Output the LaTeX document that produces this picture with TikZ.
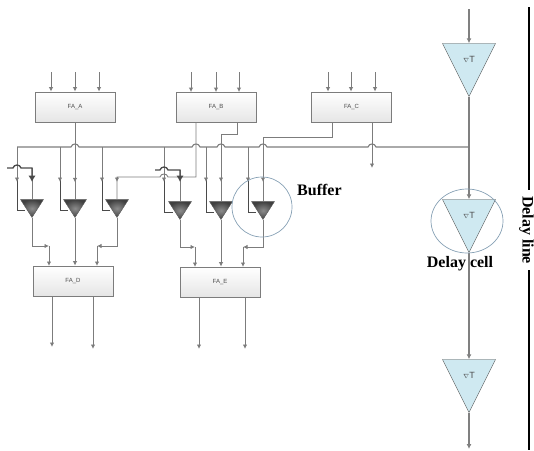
\documentclass[tikz,border=0pt]{standalone}
\usepackage{fontspec}
\setmainfont{Liberation Serif}
\setsansfont{Liberation Sans}
\usepackage{tikz}
\usetikzlibrary{arrows.meta,shapes.geometric}

\definecolor{wireGray}{HTML}{7C7C7C}
\definecolor{wireDark}{HTML}{4A4A4A}
\definecolor{ringBlue}{HTML}{86A0B4}
\definecolor{cellBlue}{HTML}{CFE9F1}

% bus jumps over a crossing wire at (x,y)
\newcommand{\hopx}[2]{-- (#1-4,#2) .. controls (#1-3,#2-4) and (#1+3,#2-4) .. (#1+4,#2)}
% delay symbol, set low in the triangle
\newcommand{\dlytext}{\smash{\raisebox{-6pt}{$\scriptstyle\nabla$T}}}

\begin{document}
\begin{tikzpicture}[
  x=1pt,y=-1pt,
  font=\fontsize{6}{7}\sffamily\selectfont,
  fabox/.style={draw=wireGray,thick,top color=white,bottom color=black!10,minimum width=80pt,minimum height=30pt,inner sep=0pt,text=black!70},
  wire/.style={draw=wireGray,line width=0.9pt},
  darkwire/.style={draw=wireDark,line width=0.9pt},
  arr/.style={wire,-{Latex[length=4.5pt,width=4.5pt]}},
  linearr/.style={draw=black!50,line width=1.4pt,-{Latex[length=5pt,width=5pt]}},
  bigarr/.style={draw=wireDark,line width=1.3pt,-{Latex[length=6.5pt,width=7.5pt]}},
  buf/.style={isosceles triangle,isosceles triangle stretches,shape border rotate=270,anchor=apex,inner sep=0pt,minimum width=23pt,minimum height=18pt,draw=black!65,inner color=black!45,outer color=black!75},
  dly/.style={isosceles triangle,isosceles triangle stretches,shape border rotate=270,anchor=apex,inner sep=0pt,minimum width=53pt,minimum height=53pt,draw=wireDark,fill=cellBlue,font=\fontsize{9}{10}\sffamily\selectfont,text=black!70},
  ring/.style={ellipse,draw=ringBlue,line width=0.7pt,inner sep=0pt},
  note/.style={font=\fontsize{16}{18}\rmfamily\bfseries\selectfont,text=black,inner sep=0pt},
]
\useasboundingbox (0,0) rectangle (534,450);

\node[fabox] (faA) at (75,107) {FA\_A};
\node[fabox] (faB) at (216,107.5) {FA\_B};
\node[fabox] (faC) at (351.5,107) {FA\_C};
\node[fabox] (faD) at (73,281) {FA\_D};
\node[fabox] (faE) at (220,282) {FA\_E};

\coordinate (aIn1) at (51,72);
\coordinate (aIn2) at (75,72);
\coordinate (aIn3) at (99,72);
\coordinate (bIn1) at (191,72);
\coordinate (bIn2) at (216,72);
\coordinate (bIn3) at (239,72);
\coordinate (cIn1) at (328,72);
\coordinate (cIn2) at (351,72);
\coordinate (cIn3) at (375,72);
\draw[arr] (aIn1) -- (aIn1 |- faA.north);
\draw[arr] (aIn2) -- (aIn2 |- faA.north);
\draw[arr] (aIn3) -- (aIn3 |- faA.north);
\draw[arr] (bIn1) -- (bIn1 |- faB.north);
\draw[arr] (bIn2) -- (bIn2 |- faB.north);
\draw[arr] (bIn3) -- (bIn3 |- faB.north);
\draw[arr] (cIn1) -- (cIn1 |- faC.north);
\draw[arr] (cIn2) -- (cIn2 |- faC.north);
\draw[arr] (cIn3) -- (cIn3 |- faC.north);

% delay line
\node[dly] (cell1) at (469,97) {\dlytext};
\node[dly] (cell2) at (469,253) {\dlytext};
\node[dly] (cell3) at (469,413) {\dlytext};
\coordinate (lineIn) at (469,9);
\coordinate (lineOut) at (469,449);
\draw[linearr] (lineIn) -- (cell1.lower side);
\draw[linearr] (cell1.apex) -- (cell2.lower side);
\draw[linearr] (cell2.apex) -- (cell3.lower side);
\draw[linearr] (cell3.apex) -- (lineOut);

% bus
\coordinate (busL) at (17,147);
\coordinate (busR) at (469,147);
\draw[wire,line width=1.1pt] (busL) \hopx{75}{147} \hopx{196}{147} \hopx{221}{147} \hopx{263}{147} \hopx{372}{147} -- (busR);

% taps off the bus
\coordinate (tap1) at (17,147);
\coordinate (tap2) at (60,147);
\coordinate (tap3) at (102,147);
\coordinate (tap4) at (164,147);
\coordinate (tap5) at (206,147);
\coordinate (tap6) at (248,147);
\coordinate (side1) at (25,210);
\coordinate (side2) at (68,210);
\coordinate (side3) at (110,210);
\coordinate (side4) at (173,212);
\coordinate (side5) at (214,212);
\coordinate (side6) at (256,212);
\draw[darkwire] (tap1) |- (side1);
\draw[arr] (tap1) -- ++(0,35);
\draw[darkwire] (tap2) |- (side2);
\draw[arr] (tap2) -- ++(0,35);
\draw[darkwire] (tap3) |- (side3);
\draw[arr] (tap3) -- ++(0,35);
\draw[darkwire] (tap4) |- (side4);
\draw[arr] (tap4) -- ++(0,35);
\draw[darkwire] (tap5) |- (side5);
\draw[arr] (tap5) -- ++(0,35);
\draw[darkwire] (tap6) |- (side6);
\draw[arr] (tap6) -- ++(0,35);

% buffers
\node[buf] (buf1) at (32,218) {};
\node[buf] (buf2) at (75,218) {};
\node[buf] (buf3) at (117,218) {};
\node[buf] (buf4) at (180,220) {};
\node[buf] (buf5) at (221,220) {};
\node[buf] (buf6) at (263,220) {};

% centre inputs
\coordinate (loop1) at (7,168);
\coordinate (loop4) at (155,170);
\coordinate (bOut1) at (196,123);
\coordinate (bOut2) at (237,123);
\coordinate (cOut1) at (332,122);
\coordinate (cOut2) at (372,122);
\coordinate (cEnd) at (372,168);
\coordinate (turn3) at (117,177);
\coordinate (turn5) at (221,134);
\coordinate (turn6) at (263,137);
\coordinate (turn1) at (32,168);
\coordinate (turn4) at (180,170);
\draw[wire] (turn1) -- (buf1.lower side);
\draw[bigarr] (loop1) \hopx{17}{168} -- (turn1) -- ++(0,14);
\draw[wire] (faA) -- (buf2.lower side);
\draw[arr] (faA.south) -- ++(0,60);
\draw[wire] (buf3.lower side) -- (turn3) \hopx{164}{177} -| (bOut1);
\draw[arr] (turn3) -- ++(0,5);
\draw[wire] (turn4) -- (buf4.lower side);
\draw[bigarr] (loop4) \hopx{164}{170} -- (turn4) -- ++(0,12);
\draw[wire] (bOut2) |- (turn5) -- (buf5.lower side);
\draw[arr] (turn5) -- ++(0,48);
\draw[wire] (cOut1) |- (turn6) -- (buf6.lower side);
\draw[arr] (turn6) -- ++(0,45);
\draw[arr] (cOut2) -- (cEnd);

% outputs into FA_D and FA_E
\coordinate (dIn1) at (49,266);
\coordinate (dIn3) at (97,266);
\coordinate (eIn1) at (195,267);
\coordinate (eIn3) at (243,267);
\coordinate (dBend1) at (49,246);
\coordinate (dBend3) at (97,246);
\coordinate (eBend1) at (195,247);
\coordinate (eBend3) at (243,247);
\draw[arr] (buf1.apex) |- (dBend1);
\draw[arr] (dBend1) -- (dIn1);
\draw[arr] (buf2.apex) -- (buf2.apex |- faD.north);
\draw[arr] (buf3.apex) |- (dBend3);
\draw[arr] (dBend3) -- (dIn3);
\draw[arr] (buf4.apex) |- (eBend1);
\draw[arr] (eBend1) -- (eIn1);
\draw[arr] (buf5.apex) -- (buf5.apex |- faE.north);
\draw[arr] (buf6.apex) |- (eBend3);
\draw[arr] (eBend3) -- (eIn3);

\coordinate (dOut1) at (52,347);
\coordinate (dOut2) at (93,349);
\coordinate (eOut1) at (199,349);
\coordinate (eOut2) at (245,349);
\draw[arr] (dOut1 |- faD.south) -- (dOut1);
\draw[arr] (dOut2 |- faD.south) -- (dOut2);
\draw[arr] (eOut1 |- faE.south) -- (eOut1);
\draw[arr] (eOut2 |- faE.south) -- (eOut2);

% rings and labels
\node[ring,minimum width=60pt,minimum height=60pt] (bufRing) at (262,207) {};
\node[ring,minimum width=72pt,minimum height=64pt] (cellRing) at (467,221) {};
\node[note,anchor=west] (bufLabel) at (297,190) {Buffer};
\node[note] (cellLabel) at (460,264) {Delay cell};
\node[note,rotate=-90,inner xsep=6pt] (lineLabel) at (526.5,230) {Delay line};
\coordinate (barTop) at (529,7);
\coordinate (barBot) at (529,450);
\draw[line width=2.4pt] (barTop) -- (barTop |- lineLabel.west);
\draw[line width=2.4pt] (barBot |- lineLabel.east) -- (barBot);
\end{tikzpicture}
\end{document}
